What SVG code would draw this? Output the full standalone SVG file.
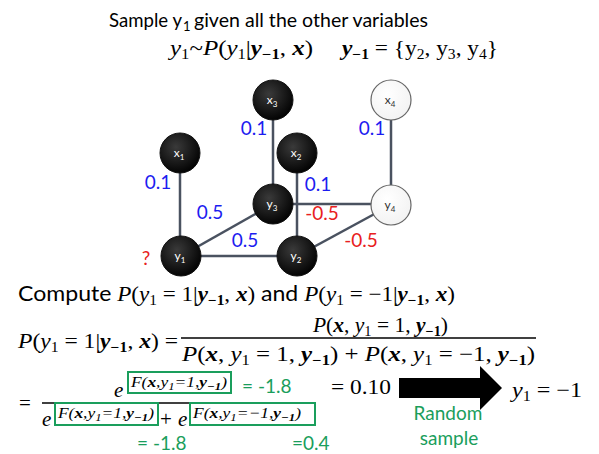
<svg xmlns="http://www.w3.org/2000/svg" width="599" height="454" viewBox="0 0 599 454">
<defs>
<radialGradient id="blk" cx="0.4" cy="0.35" r="0.7">
<stop offset="0" stop-color="#3a3a3a"/>
<stop offset="1" stop-color="#000"/>
</radialGradient>
<radialGradient id="wht" cx="0.4" cy="0.35" r="0.7">
<stop offset="0" stop-color="#fff"/>
<stop offset="1" stop-color="#f2f2f2"/>
</radialGradient>
</defs>
<style>
.sans{font-family:Lato,"Open Sans","Liberation Sans",sans-serif}
.m{font-family:"Liberation Serif","DejaVu Serif",serif;font-size:21px;fill:#000}
.i{font-style:italic}
.b{font-style:italic;font-weight:bold}
.s{font-size:14px}
.edge{stroke:#4a5260;stroke-width:2.5;fill:none}
.bn{fill:url(#blk);stroke:#111;stroke-width:1}
.wn{fill:url(#wht);stroke:#666;stroke-width:1.2}
.nl{font-family:Lato,"Liberation Sans",sans-serif;font-size:12px;fill:#fff;text-anchor:middle}
.nld{font-family:Lato,"Liberation Sans",sans-serif;font-size:12px;fill:#333;text-anchor:middle}
.blue{font-family:Lato,"Liberation Sans",sans-serif;font-size:19px;fill:#1c1cf0;text-anchor:middle}
.red{font-family:Lato,"Liberation Sans",sans-serif;font-size:19px;fill:#e82020;text-anchor:middle}
.grn{font-family:Lato,"Liberation Sans",sans-serif;font-size:19px;fill:#1a9e5c}
.box{fill:none;stroke:#1a9e5c;stroke-width:2}
.f{font-family:"Liberation Serif","DejaVu Serif",serif;font-size:15px;font-style:italic}
</style>

<g id="title">
<text class="sans" x="109" y="27" font-size="20" textLength="73" lengthAdjust="spacingAndGlyphs">Sample y</text>
<text class="sans" x="183" y="31" font-size="13">1</text>
<text class="sans" x="194" y="27" font-size="20" textLength="234" lengthAdjust="spacingAndGlyphs">given all the other variables</text>
</g>

<text class="m" x="170" y="55" textLength="143" lengthAdjust="spacingAndGlyphs"><tspan class="i">y</tspan><tspan class="s" dy="4">1</tspan><tspan dy="-4">~</tspan><tspan class="i">P</tspan>(<tspan class="i">y</tspan><tspan class="s" dy="4">1</tspan><tspan dy="-4">|</tspan><tspan class="b">y</tspan><tspan class="s" font-weight="bold" dy="4">−1</tspan><tspan dy="-4">, </tspan><tspan class="b">x</tspan>)</text>
<text class="m" x="342" y="55" textLength="156" lengthAdjust="spacingAndGlyphs"><tspan class="b">y</tspan><tspan class="s" font-weight="bold" dy="4">−1</tspan><tspan dy="-4"> = {y</tspan><tspan class="s" dy="4">2</tspan><tspan dy="-4">, y</tspan><tspan class="s" dy="4">3</tspan><tspan dy="-4">, y</tspan><tspan class="s" dy="4">4</tspan><tspan dy="-4">}</tspan></text>

<g id="connectors">
<line class="edge" x1="180" y1="153" x2="180" y2="256"/>
<line class="edge" x1="273" y1="100" x2="273" y2="204"/>
<line class="edge" x1="297" y1="153" x2="297" y2="256"/>
<line class="edge" x1="391" y1="100" x2="391" y2="205"/>
<line class="edge" x1="181" y1="256" x2="273" y2="204"/>
<line class="edge" x1="181" y1="256" x2="297" y2="256"/>
<line class="edge" x1="273" y1="204" x2="391" y2="204"/>
<line class="edge" x1="297" y1="256" x2="391" y2="205"/>
</g>

<g id="x3"><circle class="bn" cx="273" cy="100" r="20"/><text class="nl" x="272" y="104">x<tspan font-size="8" dy="3">3</tspan></text></g>
<g id="x4"><circle class="wn" cx="391" cy="100" r="20"/><text class="nld" x="390" y="104">x<tspan font-size="8" dy="3">4</tspan></text></g>
<g id="x1"><circle class="bn" cx="180" cy="153" r="20"/><text class="nl" x="179" y="157">x<tspan font-size="8" dy="3">1</tspan></text></g>
<g id="x2"><circle class="bn" cx="297" cy="153" r="20"/><text class="nl" x="296" y="157">x<tspan font-size="8" dy="3">2</tspan></text></g>
<g id="y3"><circle class="bn" cx="273" cy="204" r="20"/><text class="nl" x="272" y="208">y<tspan font-size="8" dy="3">3</tspan></text></g>
<g id="y4"><circle class="wn" cx="391" cy="205" r="20"/><text class="nld" x="390" y="209">y<tspan font-size="8" dy="3">4</tspan></text></g>
<g id="y1"><circle class="bn" cx="181" cy="256" r="20"/><text class="nl" x="180" y="260">y<tspan font-size="8" dy="3">1</tspan></text></g>
<g id="y2"><circle class="bn" cx="297" cy="256" r="20"/><text class="nl" x="296" y="260">y<tspan font-size="8" dy="3">2</tspan></text></g>

<g id="edge-labels">
<text class="blue" x="158" y="189">0.1</text>
<text class="blue" x="254" y="135">0.1</text>
<text class="blue" x="318" y="191">0.1</text>
<text class="blue" x="372" y="135">0.1</text>
<text class="blue" x="210" y="219">0.5</text>
<text class="blue" x="245" y="247">0.5</text>
<text class="red" x="322" y="220">-0.5</text>
<text class="red" x="361" y="247">-0.5</text>
<text class="red" x="146" y="265" font-size="21">?</text>
</g>

<text class="m" x="18" y="301" textLength="437" lengthAdjust="spacingAndGlyphs"><tspan class="sans">Compute </tspan><tspan class="i">P</tspan>(<tspan class="i">y</tspan><tspan class="s" dy="4">1</tspan><tspan dy="-4"> = 1|</tspan><tspan class="b">y</tspan><tspan class="s" font-weight="bold" dy="4">−1</tspan><tspan dy="-4">, </tspan><tspan class="b">x</tspan>)<tspan class="sans"> and </tspan><tspan class="i">P</tspan>(<tspan class="i">y</tspan><tspan class="s" dy="4">1</tspan><tspan dy="-4"> = −1|</tspan><tspan class="b">y</tspan><tspan class="s" font-weight="bold" dy="4">−1</tspan><tspan dy="-4">, </tspan><tspan class="b">x</tspan>)</text>

<text class="m" x="18" y="348" textLength="160" lengthAdjust="spacingAndGlyphs"><tspan class="i">P</tspan>(<tspan class="i">y</tspan><tspan class="s" dy="4">1</tspan><tspan dy="-4"> = 1|</tspan><tspan class="b">y</tspan><tspan class="s" font-weight="bold" dy="4">−1</tspan><tspan dy="-4">, </tspan><tspan class="b">x</tspan>) =</text>
<text class="m" x="313" y="332" textLength="135" lengthAdjust="spacingAndGlyphs"><tspan class="i">P</tspan>(<tspan class="b">x</tspan>, <tspan class="i">y</tspan><tspan class="s" dy="4">1</tspan><tspan dy="-4"> = 1, </tspan><tspan class="b">y</tspan><tspan class="s" font-weight="bold" dy="4">−1</tspan><tspan dy="-4">)</tspan></text>
<line x1="181" y1="338" x2="536" y2="338" stroke="#000" stroke-width="1.3"/>
<text class="m" x="182" y="361" textLength="353" lengthAdjust="spacingAndGlyphs"><tspan class="i">P</tspan>(<tspan class="b">x</tspan>, <tspan class="i">y</tspan><tspan class="s" dy="4">1</tspan><tspan dy="-4"> = 1, </tspan><tspan class="b">y</tspan><tspan class="s" font-weight="bold" dy="4">−1</tspan><tspan dy="-4">) + </tspan><tspan class="i">P</tspan>(<tspan class="b">x</tspan>, <tspan class="i">y</tspan><tspan class="s" dy="4">1</tspan><tspan dy="-4"> = −1, </tspan><tspan class="b">y</tspan><tspan class="s" font-weight="bold" dy="4">−1</tspan><tspan dy="-4">)</tspan></text>

<text class="m" x="19" y="410">=</text>
<line x1="42" y1="403" x2="190" y2="403" stroke="#000" stroke-width="1.3"/>
<text class="m i" x="114" y="397">e</text>
<rect class="box" x="128" y="372" width="103" height="21"/>
<text class="f" x="131" y="387" textLength="96" lengthAdjust="spacingAndGlyphs"><tspan>F(</tspan><tspan font-weight="bold">x</tspan>,y<tspan font-size="11" dy="3">1</tspan><tspan dy="-3">=1,</tspan><tspan font-weight="bold">y</tspan><tspan font-size="11" font-weight="bold" dy="3">−1</tspan><tspan dy="-3">)</tspan></text>
<text class="grn" x="242" y="393">= -1.8</text>

<text class="m i" x="42" y="426">e</text>
<rect class="box" x="55" y="403" width="103" height="22"/>
<text class="f" x="58" y="418" textLength="96" lengthAdjust="spacingAndGlyphs"><tspan>F(</tspan><tspan font-weight="bold">x</tspan>,y<tspan font-size="11" dy="3">1</tspan><tspan dy="-3">=1,</tspan><tspan font-weight="bold">y</tspan><tspan font-size="11" font-weight="bold" dy="3">−1</tspan><tspan dy="-3">)</tspan></text>
<text class="m" x="160" y="426" font-size="20">+</text>
<text class="m i" x="178" y="426">e</text>
<rect class="box" x="190" y="403" width="125" height="22"/>
<text class="f" x="193" y="418" textLength="108" lengthAdjust="spacingAndGlyphs"><tspan>F(</tspan><tspan font-weight="bold">x</tspan>,y<tspan font-size="11" dy="3">1</tspan><tspan dy="-3">=−1,</tspan><tspan font-weight="bold">y</tspan><tspan font-size="11" font-weight="bold" dy="3">−1</tspan><tspan dy="-3">)</tspan></text>
<text class="grn" x="137" y="450">= -1.8</text>
<text class="grn" x="292" y="450">=0.4</text>

<text class="m" x="331" y="394" textLength="60" lengthAdjust="spacingAndGlyphs">= 0.10</text>
<polygon points="399,378 480,378 480,366 502,388 480,410 480,398 399,398" fill="#000"/>
<text class="m" x="512" y="397" textLength="70" lengthAdjust="spacingAndGlyphs"><tspan class="i">y</tspan><tspan class="s" dy="4">1</tspan><tspan dy="-4"> = −1</tspan></text>
<text class="grn" x="448" y="420" text-anchor="middle">Random</text>
<text class="grn" x="449" y="445" text-anchor="middle">sample</text>
</svg>
